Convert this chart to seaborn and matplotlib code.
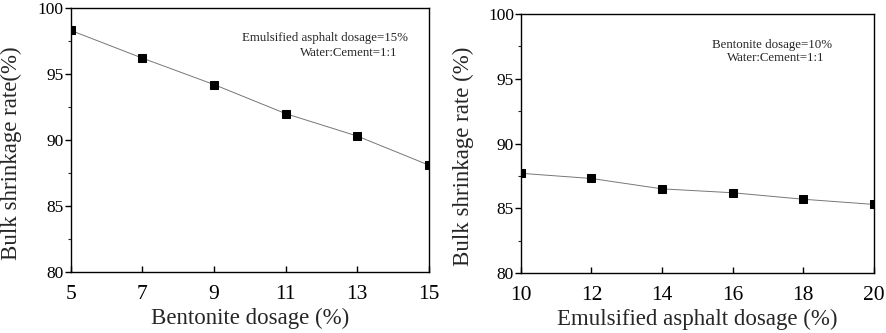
import pandas as pd
import seaborn as sns
import matplotlib.pyplot as plt
from matplotlib.ticker import MultipleLocator

# data
bentonite = [5, 7, 9, 11, 13, 15]
shrink_bentonite = [98.3, 96.2, 94.2, 92.0, 90.3, 88.1]

asphalt = [10, 12, 14, 16, 18, 20]
shrink_asphalt = [87.7, 87.3, 86.5, 86.2, 85.7, 85.3]

sns.set_style("ticks")
plt.rcParams['font.family'] = ['Liberation Serif', 'DejaVu Serif']

df_b = pd.DataFrame({'x': bentonite, 'y': shrink_bentonite})
df_a = pd.DataFrame({'x': asphalt, 'y': shrink_asphalt})

fig = plt.figure(figsize=(8.86, 3.33), dpi=100)
ax1 = fig.add_axes([0.080, 0.183, 0.404, 0.793])
ax2 = fig.add_axes([0.588, 0.180, 0.398, 0.778])

for ax, df in [(ax1, df_b), (ax2, df_a)]:
    sns.lineplot(data=df, x='x', y='y', ax=ax, color='#777777', linewidth=0.7,
                 marker='s', markersize=5.5, markerfacecolor='black',
                 markeredgecolor='black')
    ax.set_ylim(80, 100)
    ax.yaxis.set_major_locator(MultipleLocator(5))
    ax.yaxis.set_minor_locator(MultipleLocator(2.5))
    ax.tick_params(axis='y', which='major', labelsize=12.5, length=4,
                   width=1, direction='out', colors='black', pad=1)
    ax.tick_params(axis='y', which='minor', length=2.5, width=0.8, direction='out')
    ax.tick_params(axis='x', which='major', labelsize=15.5, length=4,
                   width=1, direction='in', colors='black', pad=9)
    for s in ax.spines.values():
        s.set_visible(True)
        s.set_linewidth(1)
        s.set_color('black')

ax1.set_xlim(5, 15)
ax1.set_xticks(bentonite)
ax1.set_xlabel('Bentonite dosage (%)', fontsize=16.5, labelpad=3)
ax1.set_ylabel('Bulk shrinkage rate(%)', fontsize=16.5)
ax1.yaxis.set_label_coords(-0.137, 0.45)
ax1.text(0.478, 0.886, 'Emulsified asphalt dosage=15%', transform=ax1.transAxes,
         fontsize=9.3, ha='left', va='center')
ax1.text(0.64, 0.830, 'Water:Cement=1:1', transform=ax1.transAxes,
         fontsize=9.3, ha='left', va='center')

ax2.set_xlim(10, 20)
ax2.set_xticks(asphalt)
ax2.set_xlabel('Emulsified asphalt dosage (%)', fontsize=16.5, labelpad=3)
ax2.set_ylabel('Bulk shrinkage rate (%)', fontsize=16.5)
ax2.yaxis.set_label_coords(-0.134, 0.45)
ax2.text(0.541, 0.880, 'Bentonite dosage=10%', transform=ax2.transAxes,
         fontsize=9.3, ha='left', va='center')
ax2.text(0.584, 0.830, 'Water:Cement=1:1', transform=ax2.transAxes,
         fontsize=9.3, ha='left', va='center')

fig.savefig('out.png', dpi=100)
